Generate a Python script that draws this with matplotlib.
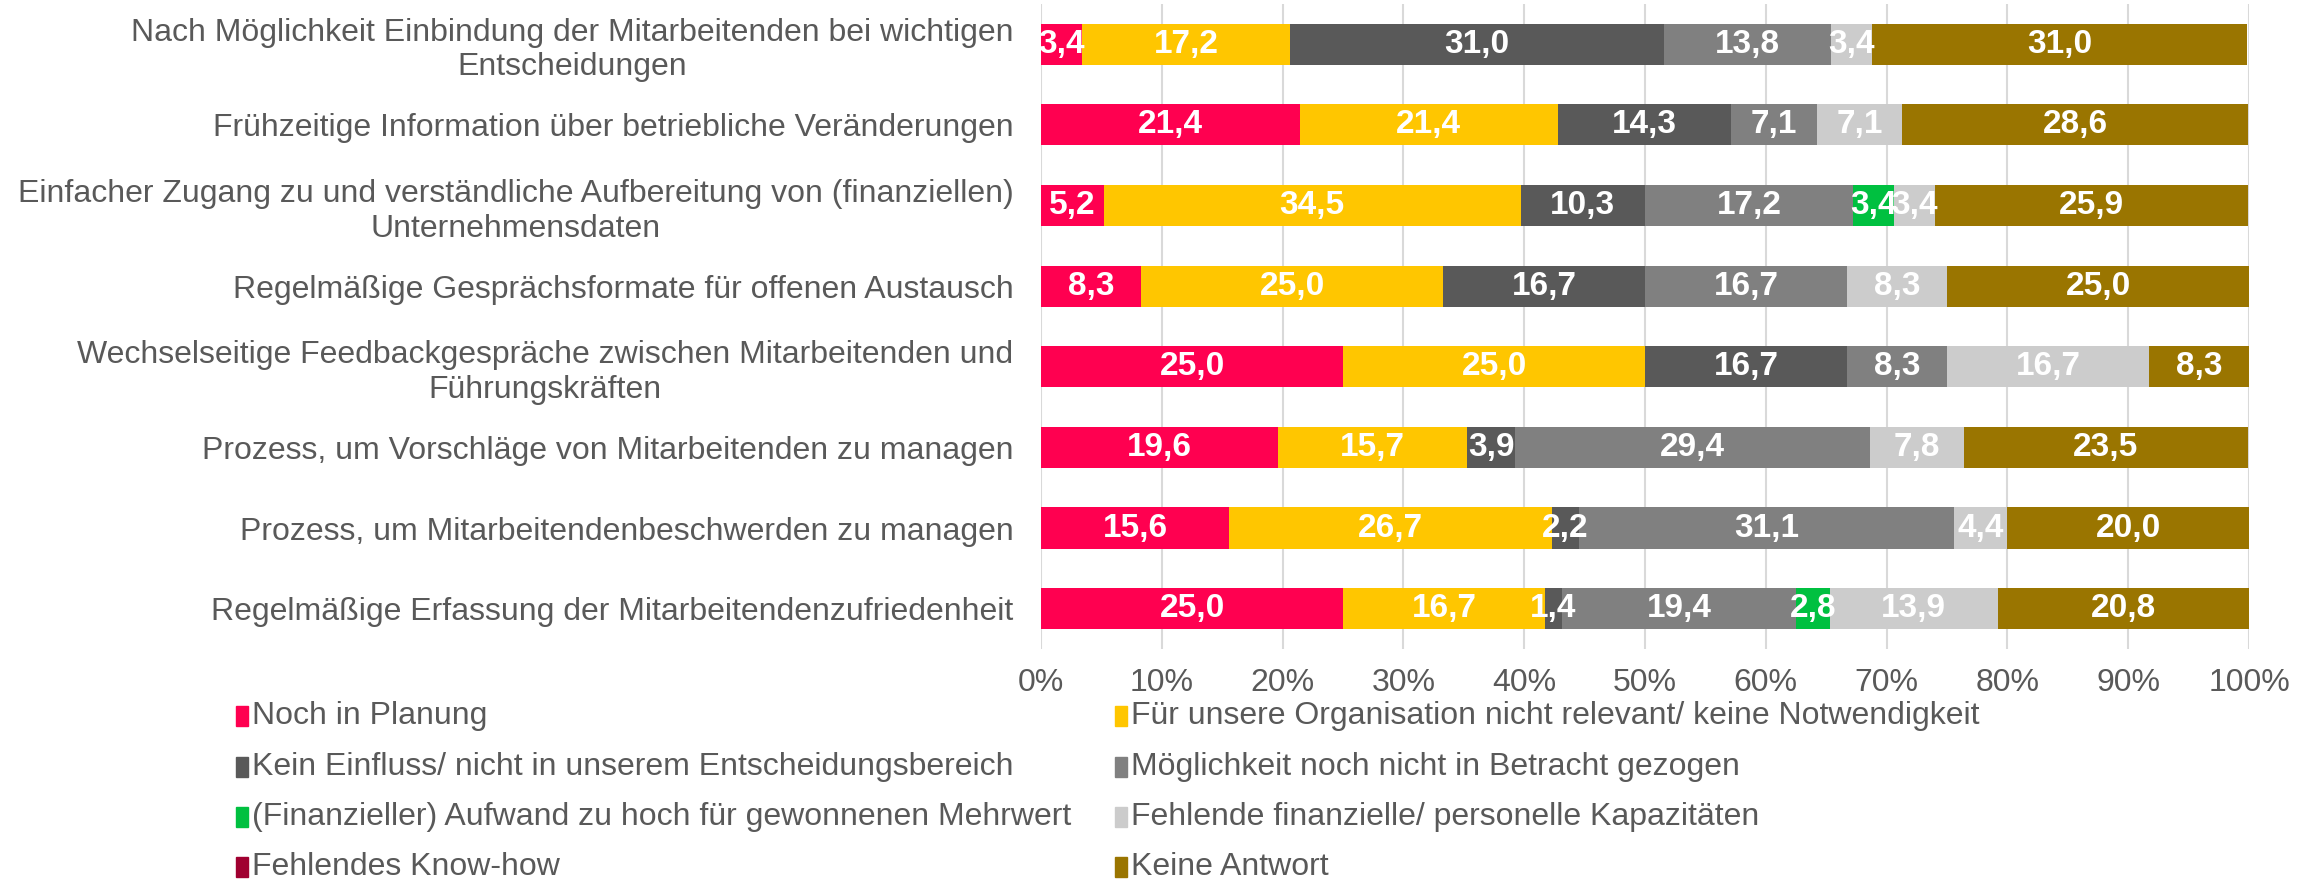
import matplotlib

matplotlib.use("Agg")
import matplotlib.pyplot as plt  # noqa: E402
from matplotlib.patches import Rectangle  # noqa: E402

plt.rcParams["font.family"] = ["Liberation Sans", "DejaVu Sans"]

categories = [
    "Nach Möglichkeit Einbindung der Mitarbeitenden bei wichtigen\nEntscheidungen",
    "Frühzeitige Information über betriebliche Veränderungen",
    "Einfacher Zugang zu und verständliche Aufbereitung von (finanziellen)\nUnternehmensdaten",
    "Regelmäßige Gesprächsformate für offenen Austausch",
    "Wechselseitige Feedbackgespräche zwischen Mitarbeitenden und\nFührungskräften",
    "Prozess, um Vorschläge von Mitarbeitenden zu managen",
    "Prozess, um Mitarbeitendenbeschwerden zu managen",
    "Regelmäßige Erfassung der Mitarbeitendenzufriedenheit",
]

series_names = [
    "Noch in Planung",
    "Für unsere Organisation nicht relevant/ keine Notwendigkeit",
    "Kein Einfluss/ nicht in unserem Entscheidungsbereich",
    "Möglichkeit noch nicht in Betracht gezogen",
    "(Finanzieller) Aufwand zu hoch für gewonnenen Mehrwert",
    "Fehlende finanzielle/ personelle Kapazitäten",
    "Fehlendes Know-how",
    "Keine Antwort",
]

noch_in_planung = [3.4, 21.4, 5.2, 8.3, 25.0, 19.6, 15.6, 25.0]
nicht_relevant = [17.2, 21.4, 34.5, 25.0, 25.0, 15.7, 26.7, 16.7]
kein_einfluss = [31.0, 14.3, 10.3, 16.7, 16.7, 3.9, 2.2, 1.4]
nicht_betracht = [13.8, 7.1, 17.2, 16.7, 8.3, 29.4, 31.1, 19.4]
aufwand_hoch = [0, 0, 3.4, 0, 0, 0, 0, 2.8]
kapazitaeten = [3.4, 7.1, 3.4, 8.3, 16.7, 7.8, 4.4, 13.9]
know_how = [0, 0, 0, 0, 0, 0, 0, 0]
keine_antwort = [31.0, 28.6, 25.9, 25.0, 8.3, 23.5, 20.0, 20.8]

series = [noch_in_planung, nicht_relevant, kein_einfluss, nicht_betracht,
          aufwand_hoch, kapazitaeten, know_how, keine_antwort]
colors = ["#FF0050", "#FFC600", "#595959", "#808080",
          "#00C040", "#CCCCCC", "#A00030", "#9A7500"]

TXT = "#595959"
FS = 23

fig = plt.figure(figsize=(23.15, 8.8), dpi=100)
ax = fig.add_axes([0.4497, 0.2625, 0.5218, 0.733])

ypos = list(range(len(categories)))
left = [0.0] * len(categories)
for vals, col in zip(series, colors):
    ax.barh(ypos, vals, left=left, height=0.51, color=col, zorder=3)
    for i, v in enumerate(vals):
        if v > 0:
            ax.text(left[i] + v / 2, i, f"{v:.1f}".replace(".", ","),
                    ha="center", va="center", color="white",
                    fontsize=24, fontweight="bold", zorder=4)
    left = [a + b for a, b in zip(left, vals)]

ax.set_ylim(len(categories) - 0.5, -0.5)
ax.set_xlim(0, 100)
ax.set_yticks(ypos)
ax.set_yticklabels(categories, fontsize=FS, color=TXT, multialignment="center",
                   linespacing=1.2)
ax.set_xticks(range(0, 101, 10))
ax.set_xticklabels([f"{x}%" for x in range(0, 101, 10)], fontsize=FS, color=TXT)
ax.tick_params(axis="both", length=0)
ax.tick_params(axis="y", pad=20)
ax.tick_params(axis="x", pad=14)
ax.grid(axis="x", color="#D9D9D9", linewidth=1.5, zorder=0)
for s in ax.spines.values():
    s.set_visible(False)

# legend, drawn by hand in figure pixels (row-wise order)
W, H = 2315, 880
col_x = [236, 1115]
row_y = [716, 767, 817, 867]
for k, (name, col) in enumerate(zip(series_names, colors)):
    x = col_x[k % 2]
    y = row_y[k // 2]
    fig.patches.append(Rectangle((x / W, (H - y - 10) / H), 12 / W, 20 / H,
                                 transform=fig.transFigure, color=col))
    fig.text((x + 16) / W, (H - y) / H, name, fontsize=FS, color=TXT,
             ha="left", va="center")

fig.savefig("out.png", dpi=100)
plt.close(fig)
